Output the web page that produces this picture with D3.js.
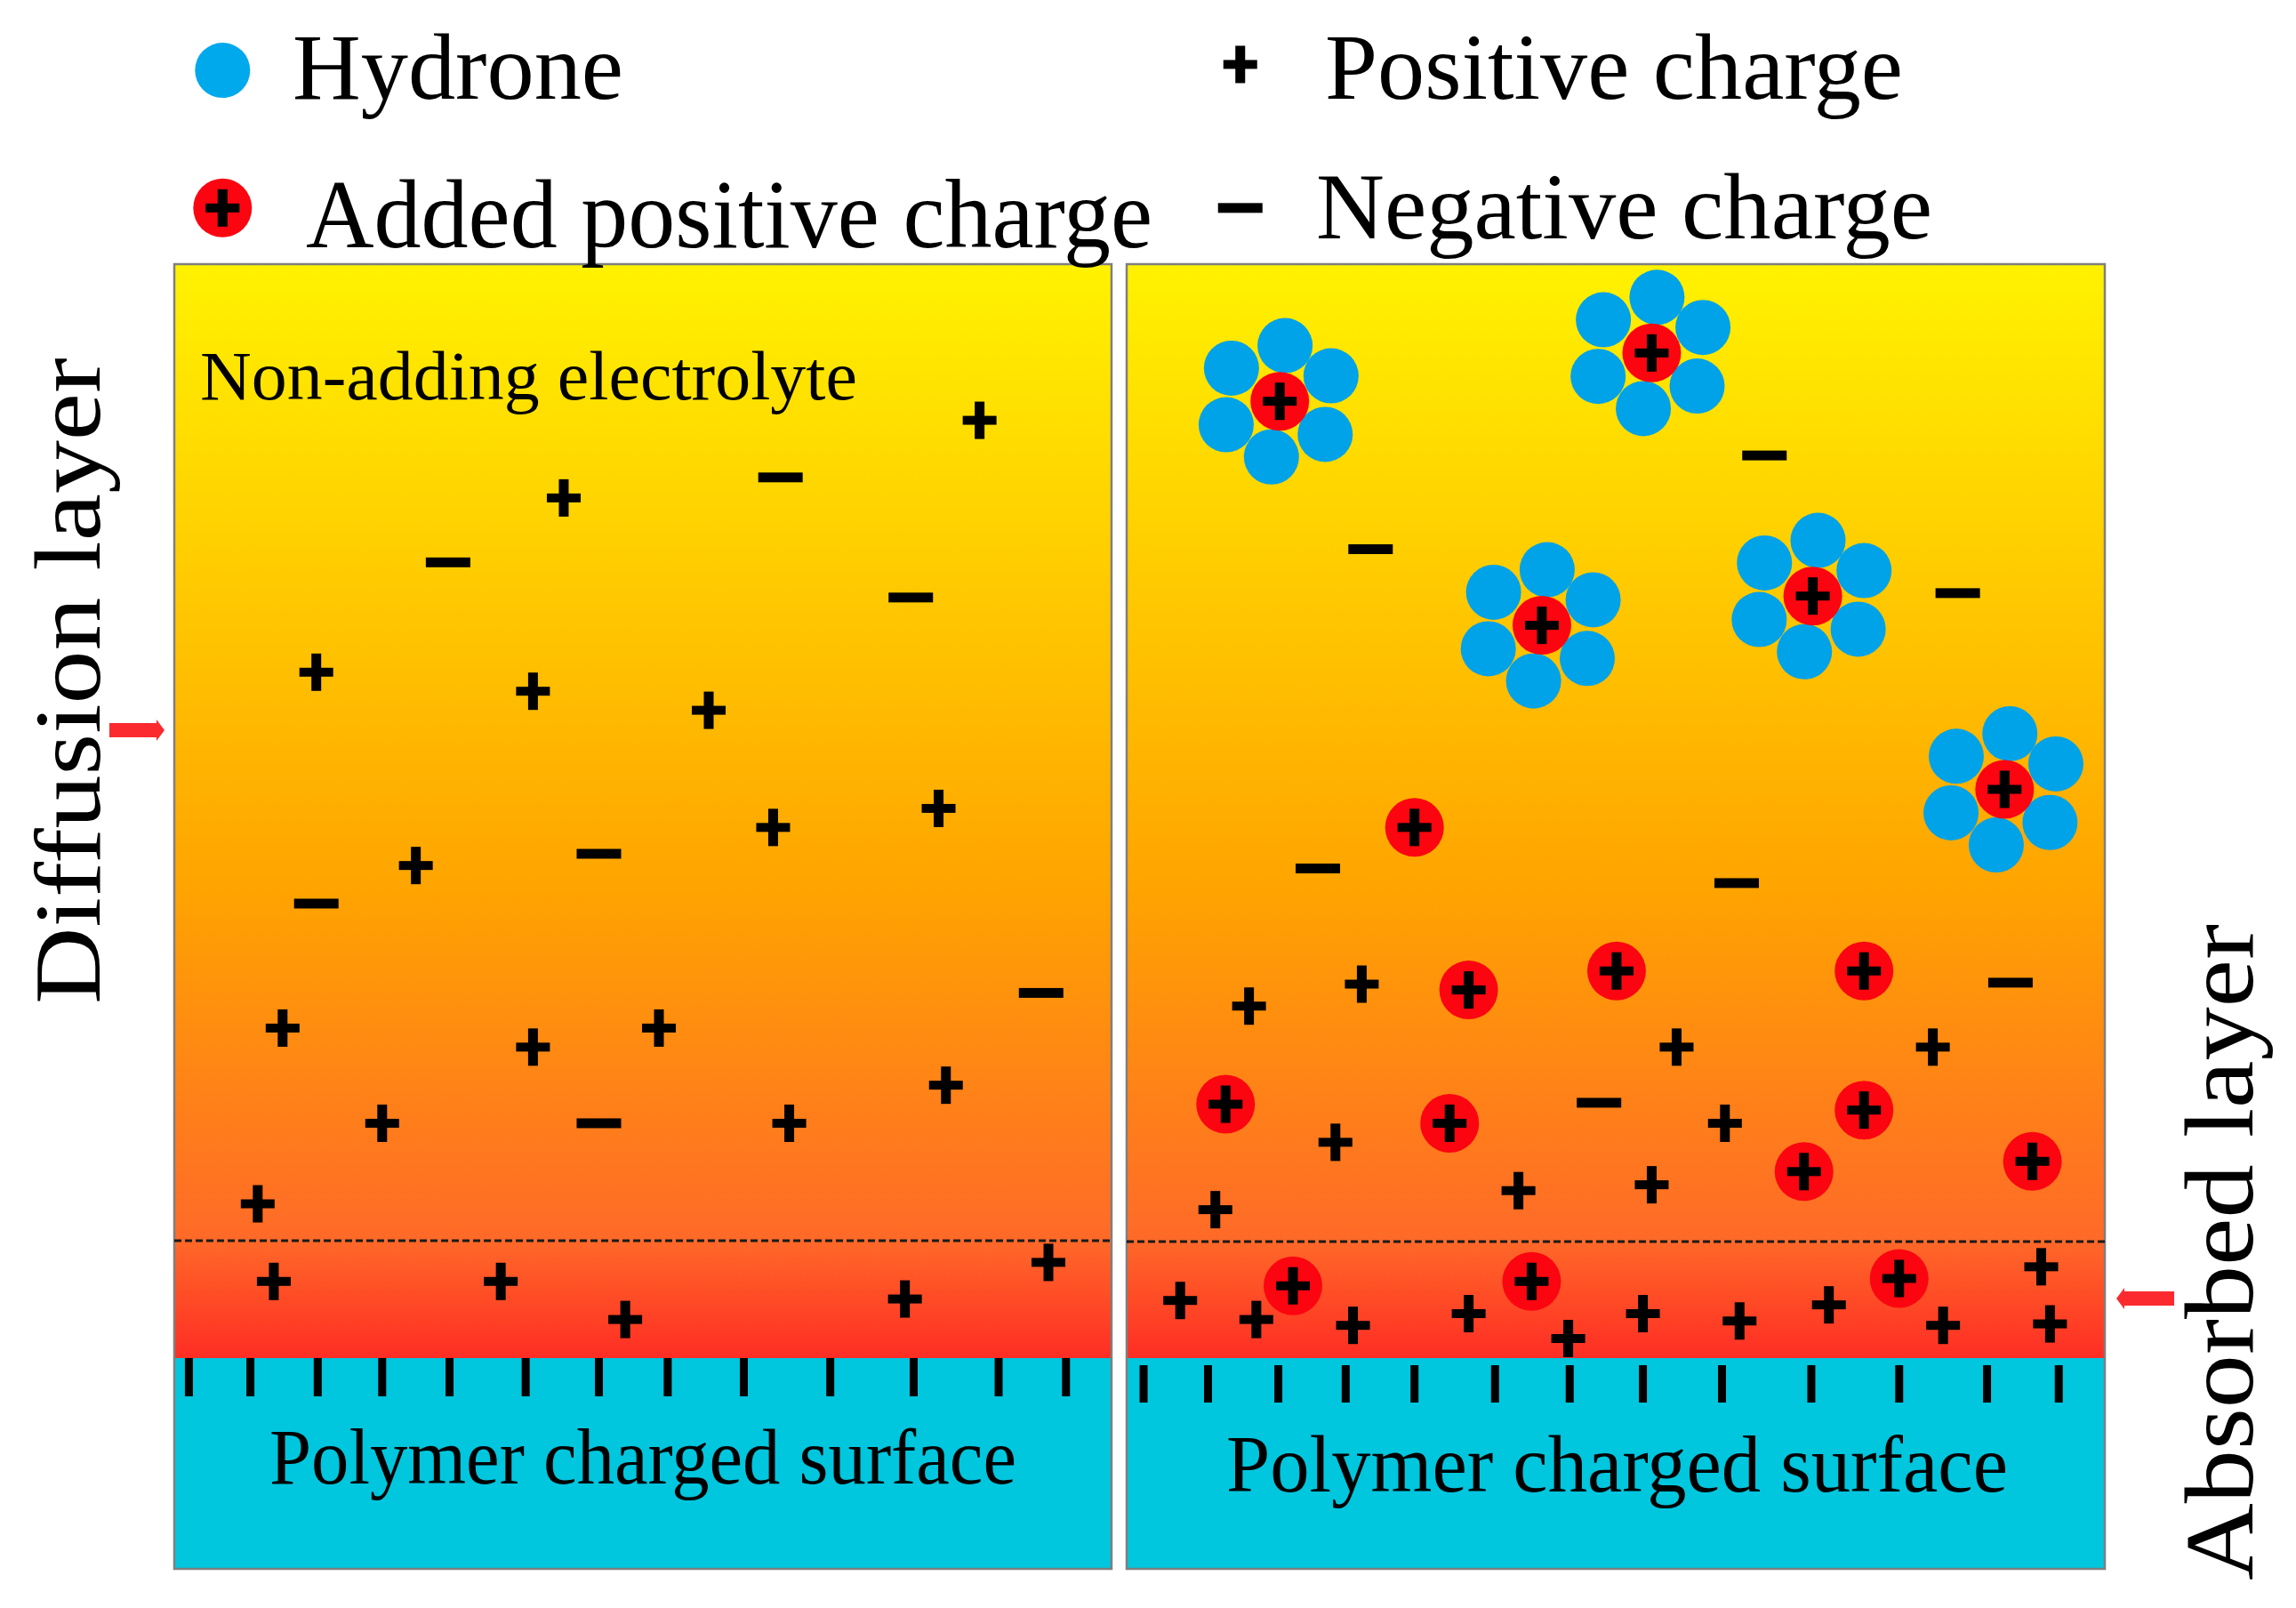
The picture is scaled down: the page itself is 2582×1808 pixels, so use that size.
<!DOCTYPE html>
<html>
<head>
<meta charset="utf-8">
<script src="https://cdn.jsdelivr.net/npm/d3@7"></script>
<style>
  html, body { margin: 0; padding: 0; background: #fff; }
  svg { display: block; }
  text { font-family: "Liberation Serif", serif; fill: #000; }
</style>
</head>
<body>
<div id="chart"></div>
<script>
// all positions, in a 1568 x 1098 figure grid
const leftPlus = [[669,287],[385,340],[216,459],[364,472],[484,485],[528,565],[641,552],[284,591],
  [193,702],[364,715],[450,702],[646,741],[261,767],[539,767],[176,822],[187,875],[342,875],
  [427,901],[618,887],[716,862]];
const leftMinus = [[533,326],[306,384],[622,408],[409,583],[216,617],[711,678],[409,767]];
const rightPlus = [[853,687],[930,672],[1145,715],[1320,715],[912,780],[1178,767],[830,826],
  [1037,813],[1128,809],[806,888],[858,901],[924,905],[1003,897],[1071,914],[1122,897],
  [1188,902],[1249,891],[1327,905],[1394,865],[1400,904]];
const rightMinus = [[1205,311],[936,375],[1337,405],[900,593],[1186,603],[1373,671],[1092,753]];
const rightAdded = [[966,565],[1003,676],[1104,663],[1273,663],[837,754],[990,767],[1273,758],
  [1232,800],[1388,793],[883,878],[1046,875],[1297,873]];
const hydrated = [[874,274],[1128,241],[1053,427],[1238,407],[1369,539]];
const shellOffsets = [[3.6,-38],[35,-17.4],[31,22.6],[-5.7,38],[-36.6,16],[-33,-22.6]];
const leftSites = [129,171,217,261,307,359,409,456,508,567,624,682,728];
const rightSites = [781,825,873,919,966,1021,1072,1122,1176,1237,1297,1357,1406];

const W = 2582, H = 1808;
const x = d3.scaleLinear().domain([0, 1568]).range([0, W]);
const y = d3.scaleLinear().domain([0, 1098]).range([0, H]);

const svg = d3.select('#chart').append('svg').attr('width', W).attr('height', H);

const grad = svg.append('defs').append('linearGradient')
  .attr('id', 'bath').attr('x1', 0).attr('y1', 0).attr('x2', 0).attr('y2', 1);
grad.selectAll('stop')
  .data([[0, '#fff200'], [0.57, '#ffa400'], [0.89, '#ff6a28'], [1, '#ff2d24']])
  .join('stop')
  .attr('offset', d => d[0])
  .attr('stop-color', d => d[1]);

const panels = [
  { x0: 196, x1: 1250, dash: 1395, tickTop: 1527, tickBot: 1570, sites: leftSites },
  { x0: 1267, x1: 2367, dash: 1396, tickTop: 1535, tickBot: 1577, sites: rightSites },
];
const panelTop = 297, panelMid = 1527, panelBot = 1764;

panels.forEach(p => {
  svg.append('rect').attr('x', p.x0).attr('y', panelTop).attr('width', p.x1 - p.x0).attr('height', panelMid - panelTop)
    .attr('fill', 'url(#bath)');
  svg.append('rect').attr('x', p.x0).attr('y', panelMid).attr('width', p.x1 - p.x0).attr('height', panelBot - panelMid)
    .attr('fill', '#00c6de');
  svg.append('rect').attr('x', p.x0).attr('y', panelTop).attr('width', p.x1 - p.x0).attr('height', panelBot - panelTop)
    .attr('fill', 'none').attr('stroke', '#7f7f7f').attr('stroke-width', 2.5);
  svg.append('line').attr('x1', p.x0).attr('x2', p.x1).attr('y1', p.dash).attr('y2', p.dash)
    .attr('stroke', '#1a1a1a').attr('stroke-width', 3).attr('stroke-dasharray', '8 4');
  svg.selectAll(null).data(p.sites).join('line')
    .attr('x1', d => x(d)).attr('x2', d => x(d))
    .attr('y1', p.tickTop).attr('y2', p.tickBot)
    .attr('stroke', '#000').attr('stroke-width', 9);
});

function plus(sel, pts) {
  const g = sel.selectAll(null).data(pts).join('g')
    .attr('transform', d => `translate(${x(d[0])},${y(d[1])})`);
  g.append('rect').attr('x', -19).attr('y', -5).attr('width', 38).attr('height', 10).attr('fill', '#000');
  g.append('rect').attr('x', -5.5).attr('y', -21).attr('width', 11).attr('height', 42).attr('fill', '#000');
}

function minus(sel, pts) {
  sel.selectAll(null).data(pts).join('rect')
    .attr('x', d => x(d[0]) - 25).attr('y', d => y(d[1]) - 5.5)
    .attr('width', 50).attr('height', 11).attr('fill', '#000');
}

function added(sel, pts) {
  sel.selectAll(null).data(pts).join('circle')
    .attr('cx', d => x(d[0])).attr('cy', d => y(d[1])).attr('r', 33).attr('fill', '#fb0510');
  plus(sel, pts);
}

const marks = svg.append('g');
plus(marks, leftPlus);
minus(marks, leftMinus);
plus(marks, rightPlus);
minus(marks, rightMinus);
added(marks, rightAdded);

// hydrated ions: six water molecules round a red ion
const shell = hydrated.flatMap(c => shellOffsets.map(o => [c[0] + o[0], c[1] + o[1]]));
marks.selectAll(null).data(shell).join('circle')
  .attr('cx', d => x(d[0])).attr('cy', d => y(d[1])).attr('r', 31).attr('fill', '#00a2e8');
added(marks, hydrated);

// legend marks
marks.append('circle').attr('cx', x(152)).attr('cy', y(48)).attr('r', 31).attr('fill', '#00a8ec');
added(marks, [[152, 142]]);
plus(marks, [[847, 44]]);
minus(marks, [[847, 142]]);

// red arrows
function arrow(x0, x1, yy) {
  const dir = Math.sign(x1 - x0);
  const p = d3.path();
  p.moveTo(x0, yy - 8);
  p.lineTo(x1 - dir * 9, yy - 8);
  p.lineTo(x1 - dir * 9, yy - 12);
  p.lineTo(x1, yy);
  p.lineTo(x1 - dir * 9, yy + 12);
  p.lineTo(x1 - dir * 9, yy + 8);
  p.lineTo(x0, yy + 8);
  p.closePath();
  svg.append('path').attr('d', p.toString()).attr('fill', '#fb2a2e');
}
arrow(123, 185, 821);
arrow(2445, 2380, 1460);

const labels = [
  { t: 'Hydrone', x: 329, y: 111, fs: 106, len: 372 },
  { t: 'Added positive charge', x: 344, y: 278, fs: 110, len: 952 },
  { t: 'Positive charge', x: 1490, y: 111, fs: 106, len: 650 },
  { t: 'Negative charge', x: 1480, y: 268, fs: 106, len: 693 },
  { t: 'Non-adding electrolyte', x: 225, y: 449, fs: 78, len: 739 },
  { t: 'Polymer charged surface', x: 303, y: 1668, fs: 88, len: 840 },
  { t: 'Polymer charged surface', x: 1379, y: 1677, fs: 92, len: 879 },
  { t: 'Diffusion layer', x: 112, y: 1129, fs: 106, len: 727, rot: -90 },
  { t: 'Absorbed layer', x: 2533, y: 1777, fs: 110, len: 738, rot: -90 },
];
svg.selectAll('text.lbl').data(labels).join('text')
  .attr('class', 'lbl')
  .attr('transform', d => `translate(${d.x},${d.y})` + (d.rot ? ` rotate(${d.rot})` : ''))
  .attr('font-size', d => d.fs)
  .attr('textLength', d => d.len)
  .attr('lengthAdjust', 'spacingAndGlyphs')
  .text(d => d.t);
</script>
</body>
</html>
